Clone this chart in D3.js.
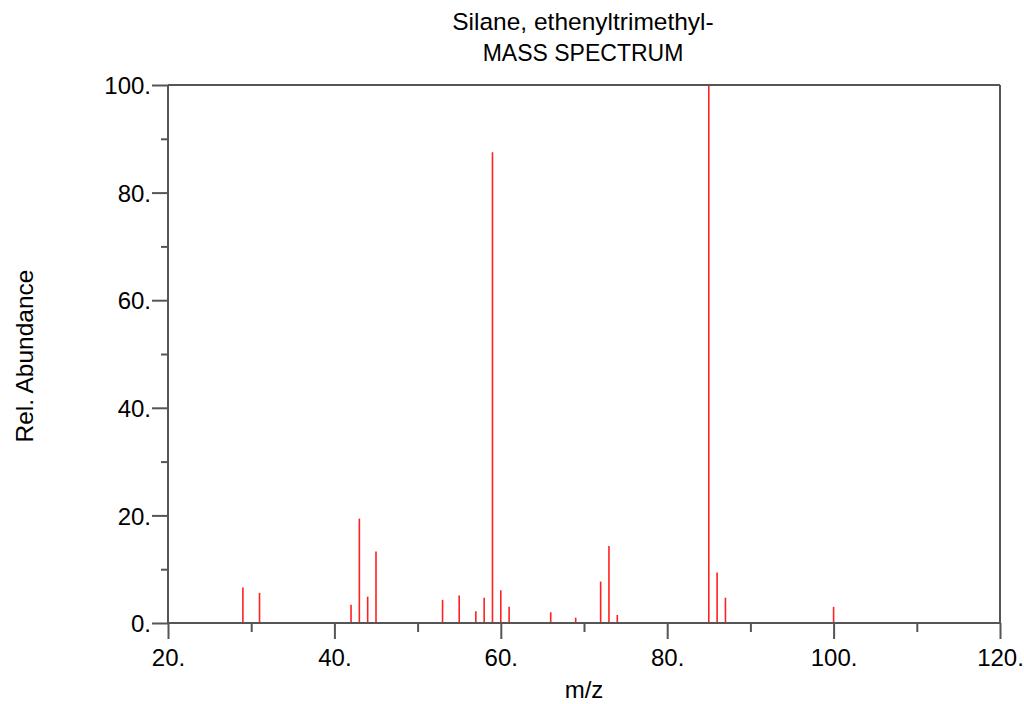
<!DOCTYPE html>
<html>
<head>
<meta charset="utf-8">
<script src="https://cdn.jsdelivr.net/npm/d3@7"></script>
<style>
  body { margin: 0; background: #fff; }
  text { font-family: "Liberation Sans", Arial, sans-serif; fill: #000; }
</style>
</head>
<body>
<svg id="chart" width="1024" height="704"></svg>
<script>
"use strict"
// Mass spectrum of vinyltrimethylsilane

var title = ["Silane, ethenyltrimethyl-", "MASS SPECTRUM"],
    mz        = [29, 31, 42, 43, 44, 45, 53, 55, 57, 58, 59, 60, 61, 66, 69, 72, 73, 74, 85, 86, 87, 100],
    abundance = [6.6, 5.6, 3.4, 19.4, 4.9, 13.3, 4.3, 5.1, 2.2, 4.7, 87.5, 6.1, 3.0, 2.0, 1.0, 7.7, 14.3, 1.5, 100, 9.4, 4.7, 3.0],
    xTicks = [20, 40, 60, 80, 100, 120],
    yTicks = [0, 20, 40, 60, 80, 100];

var svg = d3.select("svg#chart"),
    pLeft = 168, pRight = 1000, pTop = 85, pBottom = 623,  // plot frame in px
    axisColor = "#555";

var x = d3.scaleLinear().domain([20, 120]).range([pLeft, pRight]),
    y = d3.scaleLinear().domain([0, 100]).range([pBottom, pTop]);

// Title, two lines
svg.append("g").selectAll("text")
    .data(title)
  .enter().append("text")
    .attr("x", 583)
    .attr("y", function(d, i) { return 30 + i * 31; })
    .attr("text-anchor", "middle")
    .style("font-size", function(d, i) { return i == 0 ? "24.5px" : "23px"; })
    .text(function(d) { return d; });

// Peaks
svg.append("g").selectAll("line")
    .data(mz)
  .enter().append("line")
    .attr("x1", function(d) { return x(d); })
    .attr("x2", function(d) { return x(d); })
    .attr("y1", y(0))
    .attr("y2", function(d, i) { return y(abundance[i]); })
    .attr("stroke", "#ff2020")
    .attr("stroke-width", 1.6);

// Bottom axis with major (labelled) and minor ticks
var xAxis = d3.axisBottom(x)
    .tickValues(d3.range(20, 121, 10))
    .tickSize(0)
    .tickFormat(function(d) { return xTicks.indexOf(d) >= 0 ? d + "." : ""; });

var gx = svg.append("g")
    .attr("transform", "translate(0," + pBottom + ")")
    .call(xAxis);
gx.select(".domain").remove();
gx.selectAll(".tick line")
    .attr("y2", function(d) { return xTicks.indexOf(d) >= 0 ? 16 : 9; })
    .attr("stroke", axisColor)
    .attr("stroke-width", 2);
gx.selectAll(".tick text")
    .attr("y", 43)
    .attr("dy", 0)
    .style("font-size", "24px")
    .style("font-family", "'Liberation Sans', Arial, sans-serif")
    .attr("fill", "#000");

// Left axis
var yAxis = d3.axisLeft(y)
    .tickValues(d3.range(0, 101, 10))
    .tickSize(0)
    .tickFormat(function(d) { return yTicks.indexOf(d) >= 0 ? d + "." : ""; });

var gy = svg.append("g")
    .attr("transform", "translate(" + pLeft + ",0)")
    .call(yAxis);
gy.select(".domain").remove();
gy.selectAll(".tick line")
    .attr("x2", function(d) { return yTicks.indexOf(d) >= 0 ? -16 : -7; })
    .attr("stroke", axisColor)
    .attr("stroke-width", 2);
gy.selectAll(".tick text")
    .attr("x", -17)
    .attr("dy", "0.36em")
    .style("font-size", "24px")
    .style("font-family", "'Liberation Sans', Arial, sans-serif")
    .attr("fill", "#000");

// Frame lines
var frame = svg.append("g")
    .attr("stroke", axisColor)
    .attr("stroke-width", 2)
    .attr("fill", "none");
frame.append("line").attr("x1", pLeft).attr("x2", pLeft).attr("y1", pTop).attr("y2", pBottom);
frame.append("line").attr("x1", pLeft).attr("x2", pRight).attr("y1", pBottom).attr("y2", pBottom);
frame.append("line").attr("x1", pLeft).attr("x2", pRight).attr("y1", pTop).attr("y2", pTop);
frame.append("line").attr("x1", pRight).attr("x2", pRight).attr("y1", pTop).attr("y2", pBottom);

// Axis titles
svg.append("text")
    .attr("x", x(70))
    .attr("y", 698)
    .attr("text-anchor", "middle")
    .style("font-size", "24px")
    .text("m/z");

svg.append("text")
    .attr("transform", "translate(33,356) rotate(-90)")
    .attr("text-anchor", "middle")
    .style("font-size", "24.5px")
    .text("Rel. Abundance");
</script>
</body>
</html>
